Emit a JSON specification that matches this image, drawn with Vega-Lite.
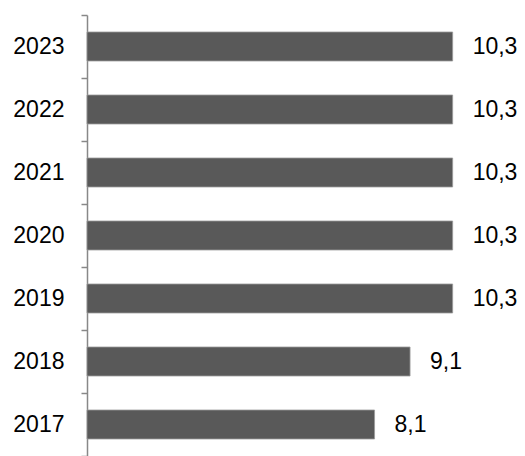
{
  "$schema": "https://vega.github.io/schema/vega-lite/v6.json",
  "width": 426,
  "height": 441,
  "autosize": "none",
  "padding": {"left": 87, "top": 15, "right": 12, "bottom": 0},
  "background": "white",
  "data": {"values": [
    {"year": "2023", "value": 10.3, "label": "10,3"},
    {"year": "2022", "value": 10.3, "label": "10,3"},
    {"year": "2021", "value": 10.3, "label": "10,3"},
    {"year": "2020", "value": 10.3, "label": "10,3"},
    {"year": "2019", "value": 10.3, "label": "10,3"},
    {"year": "2018", "value": 9.1, "label": "9,1"},
    {"year": "2017", "value": 8.1, "label": "8,1"}
  ]},
  "config": {"view": {"stroke": null}, "font": "Liberation Sans"},
  "layer": [
    {
      "mark": {"type": "bar", "color": "#595959", "stroke": "#9a9a9a", "strokeWidth": 0.8, "height": {"band": 0.46}},
      "encoding": {
        "x": {"field": "value", "type": "quantitative", "scale": {"domain": [0, 12]}, "axis": null},
        "y": {
          "field": "year", "type": "nominal", "sort": "descending",
          "scale": {"paddingInner": 0, "paddingOuter": 0},
          "axis": {
            "title": null, "orient": "left", "domain": true, "domainColor": "#888888", "domainWidth": 1.5,
            "ticks": true, "tickColor": "#888888", "tickWidth": 1.5, "tickSize": 6,
            "tickBand": "extent", "labels": true, "labelFontSize": 23, "labelColor": "black",
            "labelPadding": 17, "labelFont": "Liberation Sans", "grid": false
          }
        }
      }
    },
    {
      "mark": {"type": "text", "align": "left", "dx": 20, "fontSize": 23, "color": "black"},
      "encoding": {
        "x": {"field": "value", "type": "quantitative"},
        "y": {"field": "year", "type": "nominal", "sort": "descending"},
        "text": {"field": "label"}
      }
    }
  ]
}
